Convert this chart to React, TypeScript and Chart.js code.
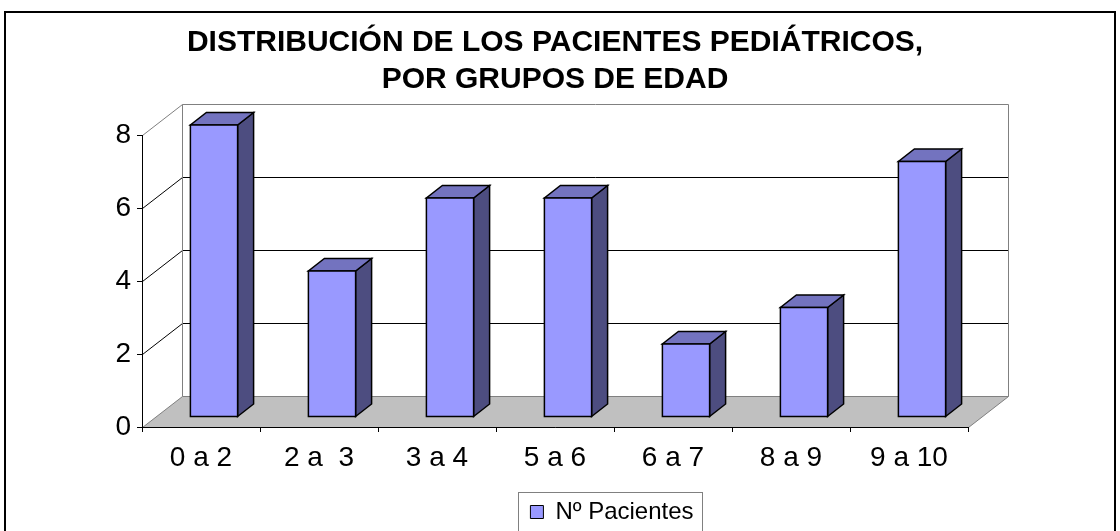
import React, { useEffect, useRef } from 'react';
import { Chart, registerables } from 'chart.js';

Chart.register(...registerables);

// ---- data ----
const categories = ['0 a 2', '2 a  3', '3 a 4', '5 a 6', '6 a 7', '8 a 9', '9 a 10'];
const pacientes = [8, 4, 6, 6, 2, 3, 7];
const seriesLabel = 'Nº Pacientes';
const titleLines = ['DISTRIBUCIÓN DE LOS PACIENTES PEDIÁTRICOS,', 'POR GRUPOS DE EDAD'];
const yTickValues = [0, 2, 4, 6, 8];

// ---- style ----
const FONT = "'Liberation Sans', Arial, Helvetica, sans-serif";
const WALL_DEPTH = { dx: 40, dy: -31 };
const BAR_FRONT = { dx: 13, dy: -10 };
const BAR_DEPTH = { dx: 16, dy: -12.5 };
const LEGEND_SHIFT = { dx: 57, dy: 3 };
const COLORS = {
  front: '#9999FF',
  side: '#4D4D80',
  top: '#7373BF',
  floor: '#C0C0C0',
  wallEdge: '#808080',
  grid: '#000000',
};

const threeDPlugin = {
  id: 'threeD',
  afterLayout(chart: any) {
    const lg = chart.legend;
    if (lg) {
      lg.left += LEGEND_SHIFT.dx;
      lg.right += LEGEND_SHIFT.dx;
      lg.top += LEGEND_SHIFT.dy;
      lg.bottom += LEGEND_SHIFT.dy;
    }
  },
  beforeDraw(chart: any) {
    const ctx = chart.ctx;
    const ca = chart.chartArea;
    const ys = chart.scales.y;
    const { dx, dy } = WALL_DEPTH;
    ctx.save();
    ctx.fillStyle = '#ffffff';
    ctx.fillRect(0, 0, chart.width, chart.height);

    const L = Math.round(ca.left) + 0.5;
    const R = Math.round(ca.right) + 0.5;
    const T = Math.round(ys.getPixelForValue(ys.max)) + 0.5;
    const B = Math.round(ys.getPixelForValue(ys.min)) + 0.5;

    // floor
    ctx.beginPath();
    ctx.moveTo(L, B);
    ctx.lineTo(R, B);
    ctx.lineTo(R + dx, B + dy);
    ctx.lineTo(L + dx, B + dy);
    ctx.closePath();
    ctx.fillStyle = COLORS.floor;
    ctx.fill();
    ctx.lineWidth = 1;
    ctx.strokeStyle = COLORS.wallEdge;
    ctx.stroke();

    // inner gridlines (side wall + back wall)
    ctx.strokeStyle = COLORS.grid;
    yTickValues.forEach((v) => {
      if (v === ys.min || v === ys.max) return;
      const py = Math.round(ys.getPixelForValue(v)) + 0.5;
      ctx.beginPath();
      ctx.moveTo(L, py);
      ctx.lineTo(L + dx, py + dy);
      ctx.lineTo(R + dx, py + dy);
      ctx.stroke();
    });

    // wall outline
    ctx.strokeStyle = COLORS.wallEdge;
    ctx.beginPath();
    ctx.moveTo(L, T);
    ctx.lineTo(L + dx, T + dy);
    ctx.lineTo(R + dx, T + dy);
    ctx.lineTo(R + dx, B + dy);
    ctx.moveTo(L + dx, T + dy);
    ctx.lineTo(L + dx, B + dy);
    ctx.stroke();
    ctx.restore();
  },
  beforeDatasetsDraw(chart: any) {
    const ctx = chart.ctx;
    const meta = chart.getDatasetMeta(0);
    ctx.save();
    ctx.lineWidth = 1.5;
    ctx.strokeStyle = '#000000';
    ctx.lineJoin = 'miter';
    meta.data.forEach((el: any) => {
      const { x, y, base, width } = el.getProps(['x', 'y', 'base', 'width'], true);
      const x0 = x - width / 2 + BAR_FRONT.dx;
      const x1 = x + width / 2 + BAR_FRONT.dx;
      const y0 = y + BAR_FRONT.dy;
      const y1 = base + BAR_FRONT.dy;
      const ddx = BAR_DEPTH.dx;
      const ddy = BAR_DEPTH.dy;
      // side
      ctx.beginPath();
      ctx.moveTo(x1, y1);
      ctx.lineTo(x1 + ddx, y1 + ddy);
      ctx.lineTo(x1 + ddx, y0 + ddy);
      ctx.lineTo(x1, y0);
      ctx.closePath();
      ctx.fillStyle = COLORS.side;
      ctx.fill();
      ctx.stroke();
      // top
      ctx.beginPath();
      ctx.moveTo(x0, y0);
      ctx.lineTo(x1, y0);
      ctx.lineTo(x1 + ddx, y0 + ddy);
      ctx.lineTo(x0 + ddx, y0 + ddy);
      ctx.closePath();
      ctx.fillStyle = COLORS.top;
      ctx.fill();
      ctx.stroke();
      // front
      ctx.beginPath();
      ctx.rect(x0, y0, x1 - x0, y1 - y0);
      ctx.fillStyle = COLORS.front;
      ctx.fill();
      ctx.stroke();
    });
    ctx.restore();
    return false;
  },
  afterDraw(chart: any) {
    const ctx = chart.ctx;
    ctx.save();
    // legend frame
    const lg = chart.legend;
    if (lg && lg.lineWidths) {
      const pad = 10;
      const lw = lg.lineWidths[0];
      const x0 = (lg.left + pad + lg.right - lw) / 2;
      const left = Math.round(x0 - 12) + 0.5;
      const right = Math.round(x0 + lw - pad + 8) + 0.5;
      const top = Math.round(lg.top + 2) + 0.5;
      ctx.strokeStyle = '#808080';
      ctx.lineWidth = 1;
      ctx.strokeRect(left, top, right - left, chart.height + 20 - top);
    }
    // outer frame
    ctx.strokeStyle = '#000000';
    ctx.lineWidth = 2;
    ctx.strokeRect(5, 12, chart.width - 10, chart.height + 40);
    ctx.restore();
  },
};

export default function App() {
  const canvasRef = useRef<HTMLCanvasElement | null>(null);

  useEffect(() => {
    if (!canvasRef.current) return;
    Chart.defaults.font.family = FONT;
    const chart = new Chart(canvasRef.current, {
      type: 'bar',
      data: {
        labels: categories,
        datasets: [
          {
            label: seriesLabel,
            data: pacientes,
            backgroundColor: COLORS.front,
            borderColor: '#000000',
            borderWidth: 1,
            barPercentage: 0.4,
            categoryPercentage: 1.0,
          },
        ],
      },
      options: {
        animation: false,
        responsive: false,
        devicePixelRatio: 1,
        layout: { padding: 0 },
        plugins: {
          tooltip: { enabled: false },
          title: {
            display: true,
            text: titleLines,
            color: '#000000',
            fullSize: false,
            font: { family: FONT, size: 30, weight: 'bold', lineHeight: 37 / 30 },
            padding: { top: 24, bottom: 37 },
          },
          legend: {
            display: true,
            position: 'bottom',
            fullSize: false,
            labels: {
              color: '#000000',
              font: { family: FONT, size: 24 },
              boxWidth: 13,
              boxHeight: 13,
              padding: 10,
            },
          },
        },
        scales: {
          x: {
            offset: true,
            ticks: { color: '#000000', font: { family: FONT, size: 28 }, padding: 9, maxRotation: 0 },
            grid: { drawOnChartArea: false, drawTicks: true, tickLength: 5, color: '#000000', offset: true },
            border: { display: true, color: '#000000', width: 1 },
            afterFit: (s: any) => {
              s.height = 60;
            },
          },
          y: {
            min: 0,
            max: 8,
            ticks: { stepSize: 2, color: '#000000', font: { family: FONT, size: 28 }, padding: 6 },
            grid: { drawOnChartArea: false, drawTicks: true, tickLength: 5, color: '#000000' },
            border: { display: true, color: '#000000', width: 1 },
            afterFit: (s: any) => {
              s.width = 142;
            },
          },
          yRight: {
            position: 'right',
            display: true,
            ticks: { display: false },
            grid: { display: false },
            border: { display: false },
            afterFit: (s: any) => {
              s.width = 152;
            },
          },
        },
      },
      plugins: [threeDPlugin],
    } as any);
    return () => chart.destroy();
  }, []);

  return (
    <div style={{ position: 'absolute', left: 0, top: 0, width: 1120, height: 531, background: '#fff' }}>
      <canvas ref={canvasRef} width={1120} height={531} style={{ width: 1120, height: 531, display: 'block' }} />
    </div>
  );
}
